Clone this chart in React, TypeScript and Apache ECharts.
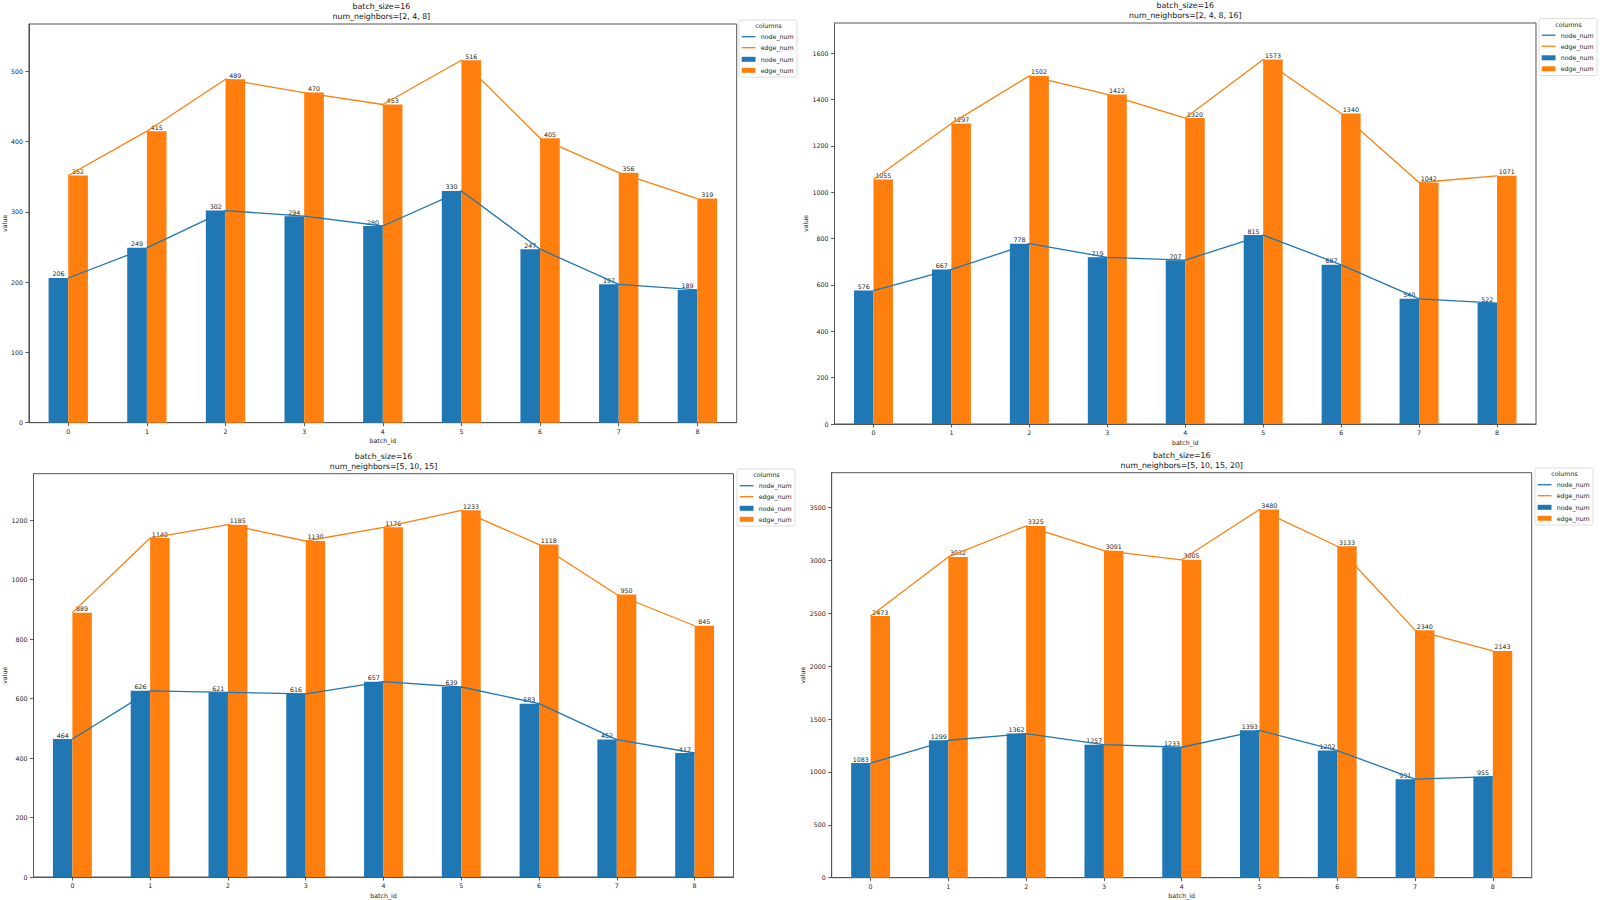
import React, { useEffect, useRef } from "react";
import * as echarts from "echarts";

const batchIds = ["0", "1", "2", "3", "4", "5", "6", "7", "8"];

const titles = [
  "batch_size=16\nnum_neighbors=[2, 4, 8]",
  "batch_size=16\nnum_neighbors=[2, 4, 8, 16]",
  "batch_size=16\nnum_neighbors=[5, 10, 15]",
  "batch_size=16\nnum_neighbors=[5, 10, 15, 20]",
];

const node1 = [206, 249, 302, 294, 280, 330, 247, 197, 189];
const edge1 = [352, 415, 489, 470, 453, 516, 405, 356, 319];

const node2 = [576, 667, 778, 719, 707, 815, 687, 540, 522];
const edge2 = [1055, 1297, 1502, 1422, 1320, 1573, 1340, 1042, 1071];

const node3 = [464, 626, 621, 616, 657, 639, 583, 462, 417];
const edge3 = [889, 1140, 1185, 1130, 1176, 1233, 1118, 950, 845];

const node4 = [1083, 1299, 1362, 1257, 1233, 1393, 1202, 931, 955];
const edge4 = [2473, 3032, 3325, 3091, 3005, 3480, 3133, 2340, 2143];

const yIntervals = [100, 200, 200, 500];

const seriesNames = ["node_num", "edge_num"];
const legendTitle = "columns";
const xName = "batch_id";
const yName = "value";

const BLUE = "#1f77b4";
const ORANGE = "#ff7f0e";
const FONT = "DejaVu Sans";

const panels = [
  { node: node1, edge: edge1, grid: { left: 26, top: 24, width: 710.7, height: 398.7 }, yGap: 20, legend: [739, 20], titleTop: 1.7 },
  { node: node2, edge: edge2, grid: { left: 834.5, top: 23, width: 701.5, height: 401 }, yGap: 25, legend: [1539, 18.5], titleTop: 0.5 },
  { node: node3, edge: edge3, grid: { left: 33.5, top: 473.7, width: 700, height: 403.3 }, yGap: 25, legend: [737, 469], titleTop: 451.7 },
  { node: node4, edge: edge4, grid: { left: 831.7, top: 472.7, width: 700, height: 405 }, yGap: 25, legend: [1535, 468], titleTop: 450.5 },
];

function legendGroup(x: number, y: number) {
  const rows = [16.7, 27.7, 39.3, 50.3];
  const txt = (t: string, tx: number, ty: number, align: string) => ({
    type: "text",
    x: tx,
    y: ty,
    style: { text: t, fill: "#222", font: `6.3px "${FONT}"`, align, verticalAlign: "middle" },
  });
  return {
    type: "group",
    x,
    y,
    children: [
      {
        type: "rect",
        shape: { x: 0, y: 0, width: 58, height: 57, r: 2 },
        style: { fill: "rgba(255,255,255,0.85)", stroke: "#d6d6d6", lineWidth: 0.8 },
      },
      txt(legendTitle, 29.5, 5.9, "center"),
      { type: "line", shape: { x1: 2.7, y1: rows[0], x2: 16.5, y2: rows[0] }, style: { stroke: BLUE, lineWidth: 1.3 } },
      { type: "line", shape: { x1: 2.7, y1: rows[1], x2: 16.5, y2: rows[1] }, style: { stroke: ORANGE, lineWidth: 1.3 } },
      { type: "rect", shape: { x: 2.7, y: rows[2] - 2.5, width: 13.8, height: 5 }, style: { fill: BLUE } },
      { type: "rect", shape: { x: 2.7, y: rows[3] - 2.5, width: 13.8, height: 5 }, style: { fill: ORANGE } },
      txt(seriesNames[0], 21.7, rows[0], "left"),
      txt(seriesNames[1], 21.7, rows[1], "left"),
      txt(seriesNames[0], 21.7, rows[2], "left"),
      txt(seriesNames[1], 21.7, rows[3], "left"),
    ],
  };
}

export default function App() {
  const ref = useRef<HTMLDivElement>(null);

  useEffect(() => {
    if (!ref.current) return;
    const chart = echarts.init(ref.current, undefined, { renderer: "svg" });

    const axisText = { color: "#222", fontSize: 6.3, fontFamily: FONT };
    const grid: any[] = [];
    const xAxis: any[] = [];
    const yAxis: any[] = [];
    const series: any[] = [];
    const title: any[] = [];
    const graphic: any[] = [];

    panels.forEach((p, i) => {
      grid.push({ ...p.grid, show: true, borderColor: "#555", borderWidth: 1, containLabel: false });
      title.push({
        text: titles[i],
        left: p.grid.left + p.grid.width / 2,
        top: p.titleTop,
        textAlign: "center",
        padding: 0,
        textStyle: { color: "#111", fontSize: 7.8, lineHeight: 10, fontWeight: "normal", fontFamily: FONT },
      });
      xAxis.push({
        type: "category",
        gridIndex: i,
        data: batchIds,
        boundaryGap: true,
        name: xName,
        nameLocation: "middle",
        nameGap: 15,
        nameTextStyle: { ...axisText },
        axisLine: { show: true, lineStyle: { color: "#555", width: 1 } },
        axisTick: { show: true, alignWithLabel: true, length: 3.5, lineStyle: { color: "#333", width: 0.8 } },
        axisLabel: { ...axisText, margin: 5.5 },
        splitLine: { show: false },
      });
      const maxVal = Math.max(...p.edge, ...p.node) * 1.1;
      yAxis.push({
        type: "value",
        gridIndex: i,
        min: 0,
        max: maxVal,
        interval: yIntervals[i],
        name: yName,
        nameLocation: "middle",
        nameGap: p.yGap,
        nameTextStyle: { ...axisText },
        axisLine: { show: true, lineStyle: { color: "#555", width: 1 } },
        axisTick: { show: true, length: 3.5, lineStyle: { color: "#333", width: 0.8 } },
        axisLabel: { ...axisText, margin: 6, showMaxLabel: false, formatter: (v: number) => String(v) },
        splitLine: { show: false },
      });
      const barLabel = { show: true, position: "top", distance: 1, color: "#222", fontSize: 6.3, fontFamily: FONT };
      series.push({
        type: "bar",
        name: seriesNames[0],
        xAxisIndex: i,
        yAxisIndex: i,
        data: p.node,
        barWidth: "25%",
        barGap: "0%",
        itemStyle: { color: BLUE },
        label: barLabel,
        z: 2,
      });
      series.push({
        type: "bar",
        name: seriesNames[1],
        xAxisIndex: i,
        yAxisIndex: i,
        data: p.edge,
        barWidth: "25%",
        barGap: "0%",
        itemStyle: { color: ORANGE },
        label: barLabel,
        z: 2,
      });
      series.push({
        type: "line",
        name: seriesNames[0],
        xAxisIndex: i,
        yAxisIndex: i,
        data: p.node,
        symbol: "none",
        showSymbol: false,
        lineStyle: { color: BLUE, width: 1.3 },
        itemStyle: { color: BLUE },
        z: 4,
      });
      series.push({
        type: "line",
        name: seriesNames[1],
        xAxisIndex: i,
        yAxisIndex: i,
        data: p.edge,
        symbol: "none",
        showSymbol: false,
        lineStyle: { color: ORANGE, width: 1.3 },
        itemStyle: { color: ORANGE },
        z: 4,
      });
      graphic.push(legendGroup(p.legend[0], p.legend[1]));
    });

    chart.setOption({
      animation: false,
      backgroundColor: "#ffffff",
      textStyle: { fontFamily: FONT },
      title,
      grid,
      xAxis,
      yAxis,
      series,
      graphic,
    });

    return () => chart.dispose();
  }, []);

  return (
    <div
      ref={ref}
      style={{ position: "absolute", left: 0, top: 0, width: 1600, height: 900, background: "#fff" }}
    />
  );
}
